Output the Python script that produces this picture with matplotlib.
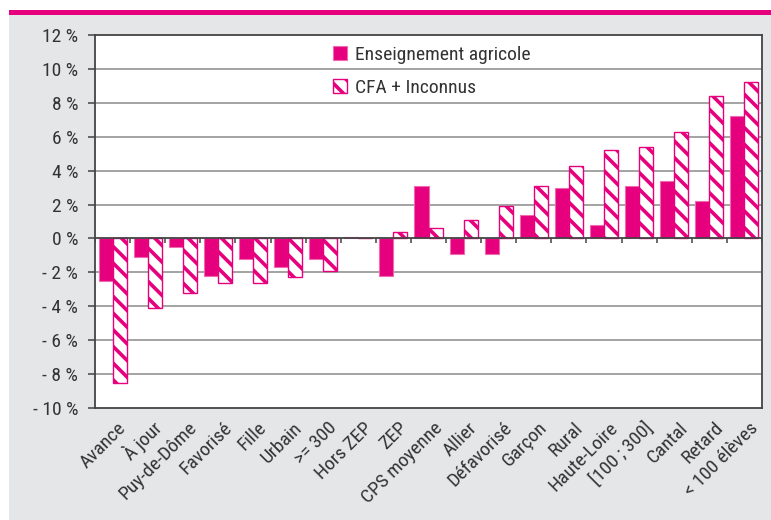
import numpy as np
import matplotlib
matplotlib.use("Agg")
import matplotlib.pyplot as plt
import matplotlib.transforms as mtransforms
from matplotlib.patches import Rectangle

plt.rcParams['font.family'] = ['Roboto Condensed', 'Archivo Narrow', 'DejaVu Sans']
plt.rcParams['hatch.linewidth'] = 2.6

# categories and values (%)
categories = ["Avance", "À jour", "Puy-de-Dôme", "Favorisé", "Fille", "Urbain",
              ">= 300", "Hors ZEP", "ZEP", "CPS moyenne", "Allier", "Défavorisé",
              "Garçon", "Rural", "Haute-Loire", "[100 ; 300]", "Cantal", "Retard",
              "< 100 élèves"]
ens_agricole = [-2.5, -1.1, -0.5, -2.2, -1.2, -1.7, -1.2, 0.1, -2.2, 3.1,
                -0.9, -0.9, 1.4, 3.0, 0.8, 3.1, 3.4, 2.2, 7.2]
cfa_inconnus = [-8.5, -4.1, -3.2, -2.6, -2.6, -2.3, -1.9, 0.0, 0.4, 0.6,
                1.1, 1.9, 3.1, 4.3, 5.2, 5.4, 6.3, 8.4, 9.2]
y_ticks = [-10, -8, -6, -4, -2, 0, 2, 4, 6, 8, 10, 12]
y_labels = ["- 10 %", "- 8 %", "- 6 %", "- 4 %", "- 2 %", "0 %",
            "2 %", "4 %", "6 %", "8 %", "10 %", "12 %"]

magenta = "#e6007e"
text_col = "#333333"

fig = plt.figure(figsize=(7.71, 5.2), dpi=100, facecolor="white")
# grey background panel and magenta band at top
fig.patches.append(Rectangle((9 / 771, 0), 1, 1 - 15 / 520, transform=fig.transFigure,
                             facecolor="#e5e6e7", edgecolor="none", zorder=-2))
fig.patches.append(Rectangle((9 / 771, 1 - 15 / 520), 1, 5 / 520, transform=fig.transFigure,
                             facecolor=magenta, edgecolor="none", zorder=-1))

ax = fig.add_axes([95 / 771, 112 / 520, 667 / 771, 373 / 520])
ax.set_facecolor("white")

x = np.arange(len(categories))
w = 0.4
ax.bar(x - w / 2, ens_agricole, w, color=magenta, edgecolor="#f06aae", linewidth=0.8,
       label="Enseignement agricole", zorder=3)
ax.bar(x + w / 2, cfa_inconnus, w, color="white", edgecolor=magenta, hatch="\\\\",
       linewidth=1.0, label="CFA + Inconnus", zorder=3)

ax.set_ylim(-10, 12)
ax.set_xlim(-0.5, len(categories) - 0.5)
ax.set_yticks(y_ticks)
ax.set_yticklabels(y_labels)
for yv in y_ticks:
    if yv not in (0, -10, 12):
        ax.axhline(yv, color="#9c9c9c", linewidth=1.3, zorder=1)
ax.axhline(0, color="#444444", linewidth=1.3, zorder=4)
ax.vlines(np.arange(len(categories) + 1) - 0.5, -0.25, 0, color="#444444",
          linewidth=1.1, zorder=4)

for s in ax.spines.values():
    s.set_color("#444444")
    s.set_linewidth(1.3)

ax.tick_params(axis="y", length=5, width=1.1, color="#444444", pad=7,
               labelsize=14, labelcolor=text_col)
ax.set_xticks(x)
ax.set_xticklabels(categories, rotation=45, ha="right", va="center",
                   rotation_mode="anchor", fontsize=14, color=text_col)
ax.tick_params(axis="x", length=0, pad=0)
offset = mtransforms.ScaledTranslation(11 / 100, -17 / 100, fig.dpi_scale_trans)
for lab in ax.get_xticklabels():
    lab.set_transform(lab.get_transform() + offset)

ax.legend(loc="upper left", bbox_to_anchor=(315 / 771, 1 - 28 / 520),
          bbox_transform=fig.transFigure, frameon=False, fontsize=14,
          handlelength=0.75, handleheight=0.75, handletextpad=0.4,
          labelspacing=0.8, labelcolor=text_col)

fig.savefig("out.png", dpi=100, facecolor=fig.get_facecolor())
